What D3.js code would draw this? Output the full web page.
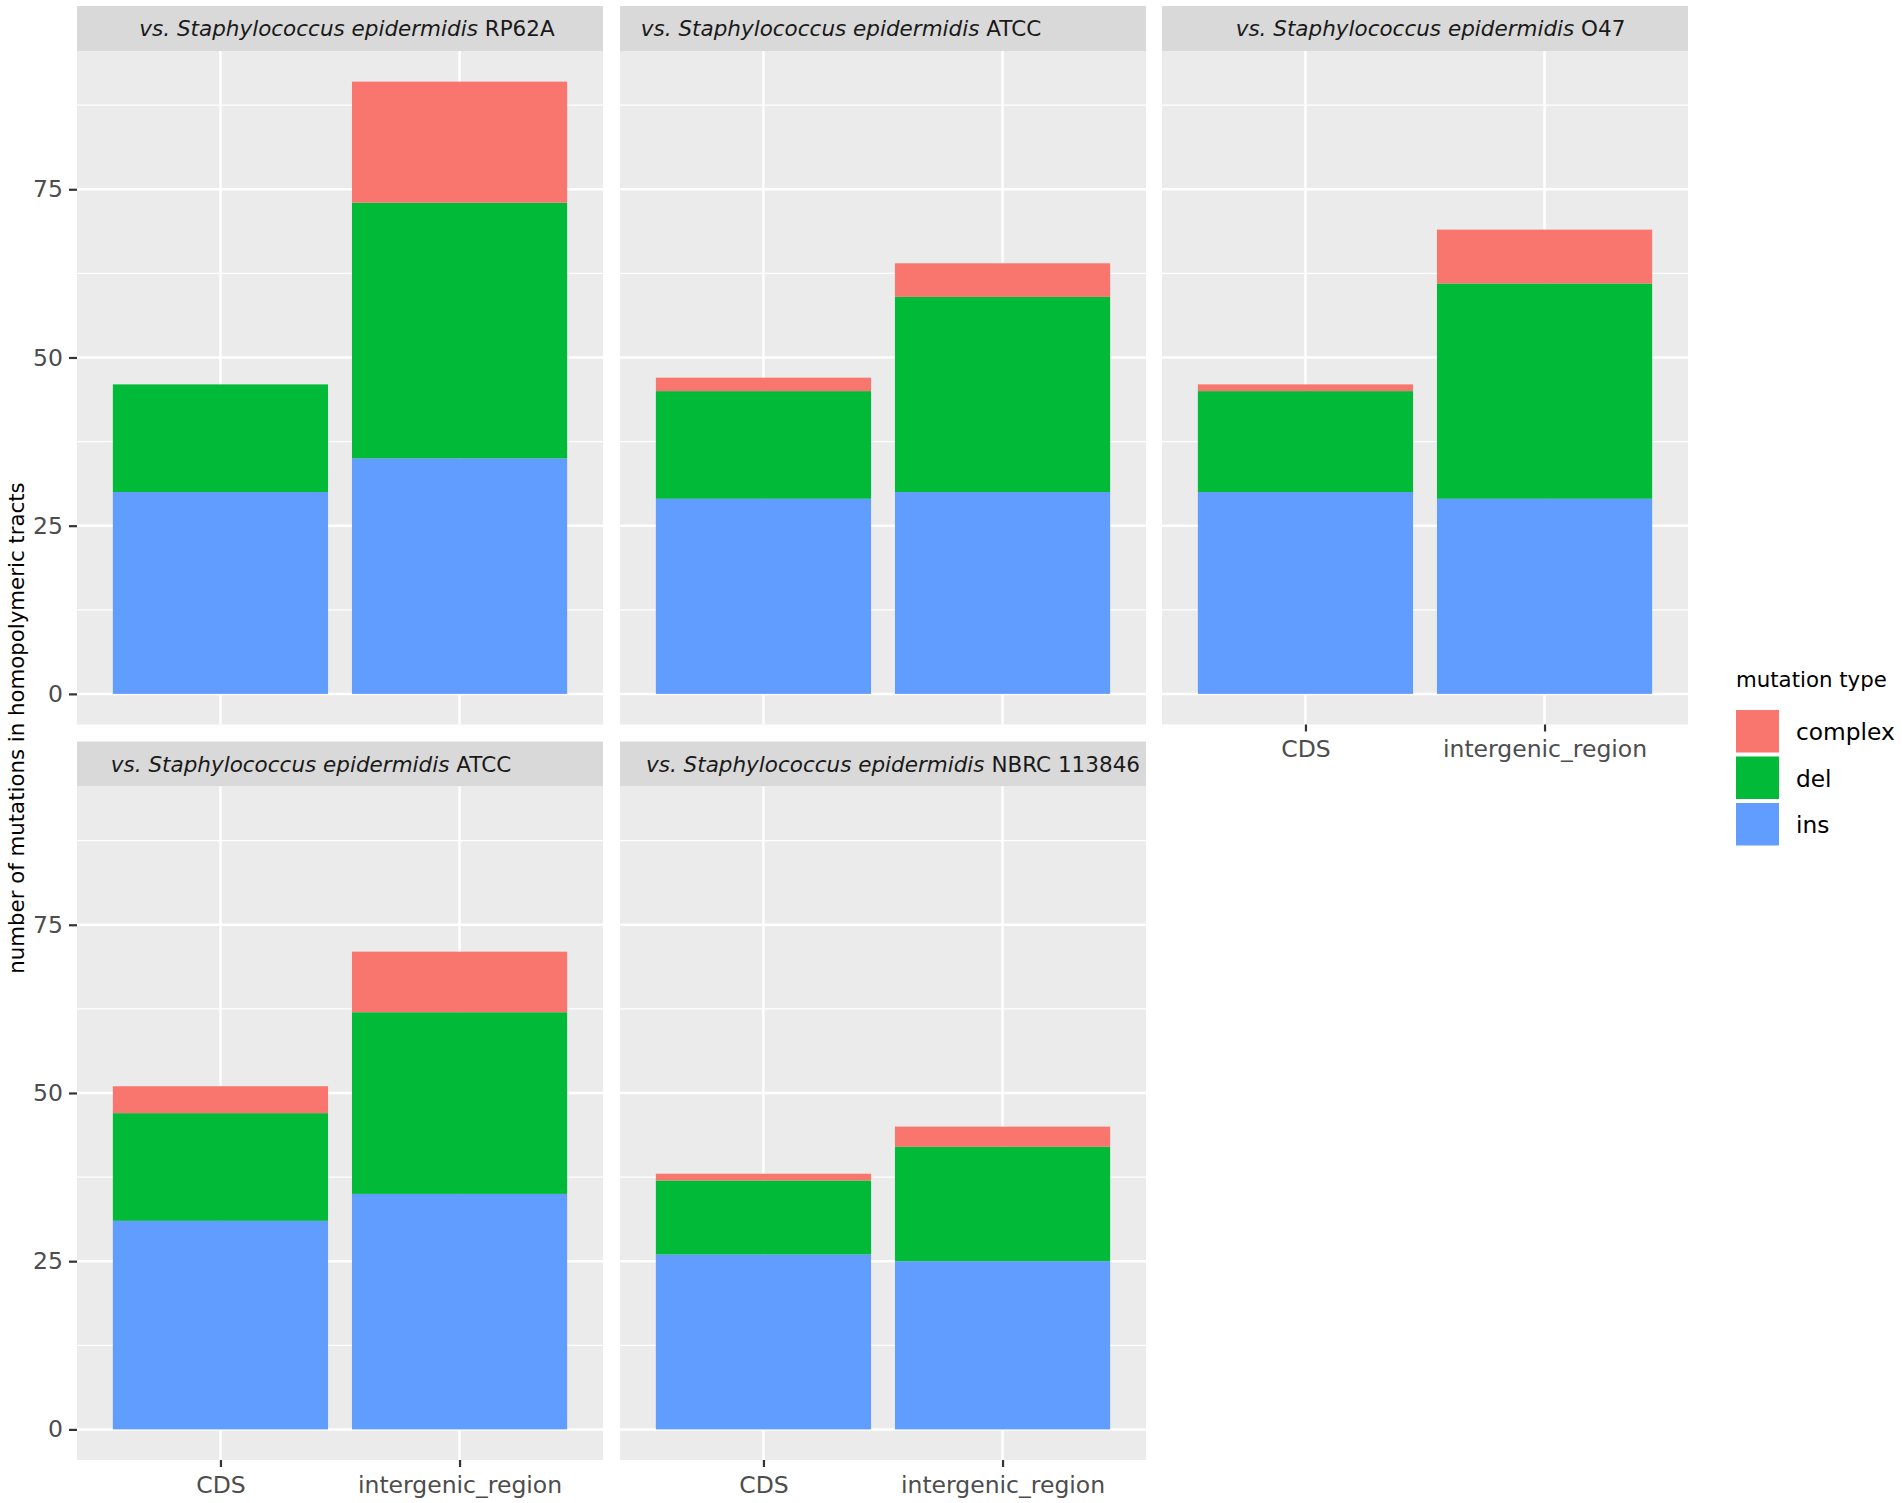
<!DOCTYPE html>
<html>
<head>
<meta charset="utf-8">
<script src="https://cdn.jsdelivr.net/npm/d3@7"></script>
<style>
  html, body { margin: 0; padding: 0; background: #ffffff; }
  svg { display: block; }
</style>
</head>
<body>
<script>
// ---------- data ----------
const strainPrefix = "vs. Staphylococcus epidermidis";
const strains = ["RP62A", "ATCC", "O47", "ATCC", "NBRC 113846"];
const categories = ["CDS", "intergenic_region"];
const mutationTypes = ["complex", "del", "ins"];
// values per facet, per category [CDS, intergenic_region]
const insValues     = [[30, 35], [29, 30], [30, 29], [31, 35], [26, 25]];
const delValues     = [[16, 38], [16, 29], [15, 32], [16, 27], [11, 17]];
const complexValues = [[0, 18],  [2, 5],   [1, 8],   [4, 9],   [1, 3]];
const yTicks = [0, 25, 50, 75];
const yMinor = [12.5, 37.5, 62.5, 87.5];
const yTitle = "number of mutations in homopolymeric tracts";
const legendTitle = "mutation type";

// ---------- layout ----------
const W = 1902, H = 1503;
const colX = [77, 620, 1162];
const panelW = 526;
const rowTop = [6, 741.5];
const stripH = 45;
const panelH = 673.5;
const stripTextShift = [7, -42, 5.5, -29, 10];
const colors = { complex: "#F8766D", del: "#00BA38", ins: "#619CFF" };
const font = "'DejaVu Sans', 'Liberation Sans', sans-serif";

const svg = d3.select("body").append("svg")
  .attr("width", W).attr("height", H)
  .style("font-family", font);

// shared y scale (fixed scales)
const totals = insValues.map((r, i) => r.map((v, j) => v + delValues[i][j] + complexValues[i][j]));
const yMax = d3.max(totals.flat());
const pad = yMax * 0.05;
const y = d3.scaleLinear().domain([-pad, yMax + pad]).range([panelH, 0]);
const x = d3.scaleLinear().domain([0.4, 2.6]).range([0, panelW]);
const barHalf = 0.45;

strains.forEach((strain, i) => {
  const col = i % 3, row = Math.floor(i / 3);
  const gx = colX[col], gy = rowTop[row];
  const g = svg.append("g").attr("transform", `translate(${gx},${gy})`);

  // strip
  g.append("rect").attr("x", 0).attr("y", 0).attr("width", panelW).attr("height", stripH)
    .attr("fill", "#D9D9D9");
  const st = g.append("text").attr("x", panelW / 2 + stripTextShift[i]).attr("y", stripH / 2 + 7.6)
    .attr("text-anchor", "middle").attr("font-size", 21.5).attr("fill", "#1A1A1A");
  st.append("tspan").attr("font-style", "italic").text(strainPrefix);
  st.append("tspan").text(" " + strain);

  // panel
  const p = g.append("g").attr("transform", `translate(0,${stripH})`);
  p.append("rect").attr("width", panelW).attr("height", panelH).attr("fill", "#EBEBEB");
  p.selectAll("line.minor").data(yMinor).join("line")
    .attr("x1", 0).attr("x2", panelW)
    .attr("y1", d => y(d)).attr("y2", d => y(d))
    .attr("stroke", "#ffffff").attr("stroke-width", 1.3);
  p.selectAll("line.majorY").data(yTicks).join("line")
    .attr("x1", 0).attr("x2", panelW)
    .attr("y1", d => y(d)).attr("y2", d => y(d))
    .attr("stroke", "#ffffff").attr("stroke-width", 2.5);
  p.selectAll("line.majorX").data(categories).join("line")
    .attr("x1", (d, j) => x(j + 1)).attr("x2", (d, j) => x(j + 1))
    .attr("y1", 0).attr("y2", panelH)
    .attr("stroke", "#ffffff").attr("stroke-width", 2.5);

  // stacked bars: ins bottom, del middle, complex top
  categories.forEach((c, j) => {
    const segs = [
      { key: "ins", v: insValues[i][j] },
      { key: "del", v: delValues[i][j] },
      { key: "complex", v: complexValues[i][j] }
    ];
    let base = 0;
    segs.forEach(s => {
      s.y0 = base; s.y1 = base + s.v; base = s.y1;
    });
    p.selectAll(null).data(segs.filter(s => s.v > 0)).join("rect")
      .attr("x", x(j + 1 - barHalf))
      .attr("width", x(j + 1 + barHalf) - x(j + 1 - barHalf))
      .attr("y", s => y(s.y1))
      .attr("height", s => y(s.y0) - y(s.y1))
      .attr("fill", s => colors[s.key]);
  });

  // y axis on leftmost column
  if (col === 0) {
    const ax = p.append("g")
      .call(d3.axisLeft(y).tickValues(yTicks).tickSize(8).tickPadding(6).tickSizeOuter(0));
    ax.select(".domain").remove();
    ax.selectAll(".tick line").attr("stroke", "#333333").attr("stroke-width", 2.2);
    ax.selectAll(".tick text").attr("font-size", 23.5).attr("fill", "#4D4D4D")
      .attr("font-family", font);
  }
  // x axis on panels with nothing below
  if (row === 1 || col === 2) {
    const xb = d3.scaleOrdinal().domain(categories).range(categories.map((c, j) => x(j + 1)));
    const ax = p.append("g").attr("transform", `translate(0,${panelH})`)
      .call(d3.axisBottom(xb).tickSize(7).tickPadding(9).tickSizeOuter(0));
    ax.select(".domain").remove();
    ax.selectAll(".tick line").attr("stroke", "#333333").attr("stroke-width", 2.2);
    ax.selectAll(".tick text").attr("font-size", 23.5).attr("fill", "#4D4D4D")
      .attr("font-family", font);
  }
});

// y-axis title
svg.append("text")
  .attr("transform", `translate(24,728) rotate(-90)`)
  .attr("text-anchor", "middle").attr("font-size", 21.3).attr("fill", "#000000")
  .text(yTitle);

// legend
const lg = svg.append("g").attr("transform", "translate(1736,0)");
lg.append("text").attr("x", 0).attr("y", 687).attr("font-size", 21.3).attr("fill", "#000000")
  .text(legendTitle);
const keyTop = 710, keyStep = 46.5, keyW = 43, keyH = 42.5;
lg.selectAll("rect.key").data(mutationTypes).join("rect")
  .attr("x", 0).attr("y", (d, k) => keyTop + k * keyStep)
  .attr("width", keyW).attr("height", keyH)
  .attr("fill", d => colors[d]);
lg.selectAll("text.lab").data(mutationTypes).join("text")
  .attr("x", 60).attr("y", (d, k) => keyTop + k * keyStep + keyH / 2 + 9)
  .attr("font-size", 23.3).attr("fill", "#000000")
  .text(d => d);
</script>
</body>
</html>
